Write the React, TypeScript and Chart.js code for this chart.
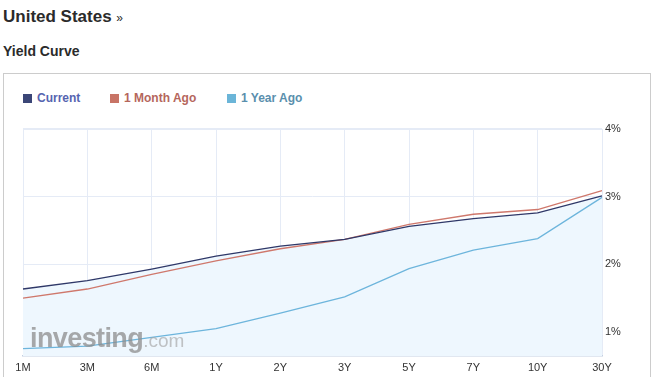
import React, { useEffect, useRef } from "react";
import { Chart, registerables } from "chart.js";

Chart.register(...registerables);

const categories = ["1M", "3M", "6M", "1Y", "2Y", "3Y", "5Y", "7Y", "10Y", "30Y"];
const currentYields = [1.635, 1.76, 1.93, 2.12, 2.27, 2.37, 2.56, 2.675, 2.76, 3.01];
const monthAgoYields = [1.5, 1.635, 1.85, 2.05, 2.23, 2.37, 2.59, 2.74, 2.81, 3.09];
const yearAgoYields = [0.755, 0.79, 0.92, 1.05, 1.28, 1.52, 1.935, 2.21, 2.38, 2.99];
const yTicks = [1, 2, 3, 4];

const FONT = "'Liberation Sans', Arial, Helvetica, sans-serif";

export default function App() {
  const ref = useRef<HTMLCanvasElement | null>(null);

  useEffect(() => {
    if (!ref.current) return;
    const chart = new Chart(ref.current, {
      type: "line",
      data: {
        labels: categories,
        datasets: [
          {
            label: "Current",
            data: currentYields,
            borderColor: "#2f3868",
            backgroundColor: "#eef7fe",
            borderWidth: 1.3,
            pointRadius: 0,
            fill: "start",
            tension: 0,
          },
          {
            label: "1 Month Ago",
            data: monthAgoYields,
            borderColor: "#cf786c",
            borderWidth: 1.3,
            pointRadius: 0,
            fill: false,
            tension: 0,
          },
          {
            label: "1 Year Ago",
            data: yearAgoYields,
            borderColor: "#6db5dc",
            borderWidth: 1.3,
            pointRadius: 0,
            fill: false,
            tension: 0,
          },
        ],
      },
      options: {
        responsive: false,
        animation: false,
        layout: { padding: { top: 129, left: 23, right: 0, bottom: 0 } },
        plugins: {
          legend: { display: false },
          tooltip: { enabled: false },
          filler: { drawTime: "beforeDatasetsDraw" },
        },
        scales: {
          x: {
            offset: false,
            grid: { color: "#e5ebf6", drawTicks: false },
            border: { color: "#c4d0e2", width: 1.5 },
            ticks: {
              color: "#333",
              font: { family: FONT, size: 11 },
              padding: 5,
              maxRotation: 0,
              autoSkip: false,
            },
            afterFit: (s: any) => {
              s.height = 21;
            },
          },
          y: {
            position: "right",
            min: 0.645,
            max: 4,
            grid: {
              color: "#e5ebf6",
              drawTicks: false,
              lineWidth: (ctx: any) => (ctx.tick && ctx.tick.value === 4 ? 2 : 1),
            },
            border: { display: false },
            afterBuildTicks: (s: any) => {
              s.ticks = yTicks.map((v) => ({ value: v }));
            },
            ticks: {
              color: "#333",
              font: { family: FONT, size: 11 },
              padding: 3,
              callback: (v: any) => `${v}%`,
            },
            afterFit: (s: any) => {
              s.width = 54;
            },
          },
        },
      },
    });
    return () => chart.destroy();
  }, []);

  const legendItems = [
    { label: "Current", box: "#3b4677", text: "#5664b0", x: 23, tx: 37 },
    { label: "1 Month Ago", box: "#c87466", text: "#b5665c", x: 110, tx: 124 },
    { label: "1 Year Ago", box: "#6bb5d8", text: "#5a8fad", x: 227, tx: 241 },
  ];

  return (
    <div
      style={{
        position: "fixed",
        left: 0,
        top: 0,
        width: 656,
        height: 377,
        background: "#fff",
        overflow: "hidden",
        fontFamily: FONT,
      }}
    >
      <div
        style={{
          position: "absolute",
          left: 3,
          top: 6,
          fontSize: 17,
          fontWeight: "bold",
          color: "#2b2b2b",
          whiteSpace: "nowrap",
          lineHeight: "22px",
        }}
      >
        United States <span style={{ fontSize: 12, fontWeight: "normal" }}>»</span>
      </div>
      <div
        style={{
          position: "absolute",
          left: 3,
          top: 42,
          fontSize: 14,
          fontWeight: "bold",
          color: "#2b2b2b",
          whiteSpace: "nowrap",
          lineHeight: "18px",
        }}
      >
        Yield Curve
      </div>
      <div
        style={{
          position: "absolute",
          left: 3,
          top: 73,
          width: 648,
          height: 340,
          border: "1px solid #cccccc",
          boxSizing: "border-box",
        }}
      />
      {legendItems.map((it) => (
        <React.Fragment key={it.label}>
          <div
            style={{
              position: "absolute",
              left: it.x,
              top: 94,
              width: 9,
              height: 9,
              background: it.box,
            }}
          />
          <div
            style={{
              position: "absolute",
              left: it.tx,
              top: 91,
              fontSize: 12,
              fontWeight: "bold",
              color: it.text,
              lineHeight: "15px",
              whiteSpace: "nowrap",
            }}
          >
            {it.label}
          </div>
        </React.Fragment>
      ))}
      <canvas
        ref={ref}
        width={656}
        height={377}
        style={{ position: "absolute", left: 0, top: 0, width: 656, height: 377 }}
      />
      <div
        style={{
          position: "absolute",
          left: 30,
          top: 322,
          whiteSpace: "nowrap",
          pointerEvents: "none",
          lineHeight: "32px",
        }}
      >
        <span
          style={{
            fontSize: 27,
            fontWeight: "bold",
            color: "rgba(140,140,140,0.75)",
            letterSpacing: -0.6,
          }}
        >
          investing
        </span>
        <span style={{ fontSize: 19, color: "rgba(165,165,165,0.65)" }}>.com</span>
      </div>
    </div>
  );
}
